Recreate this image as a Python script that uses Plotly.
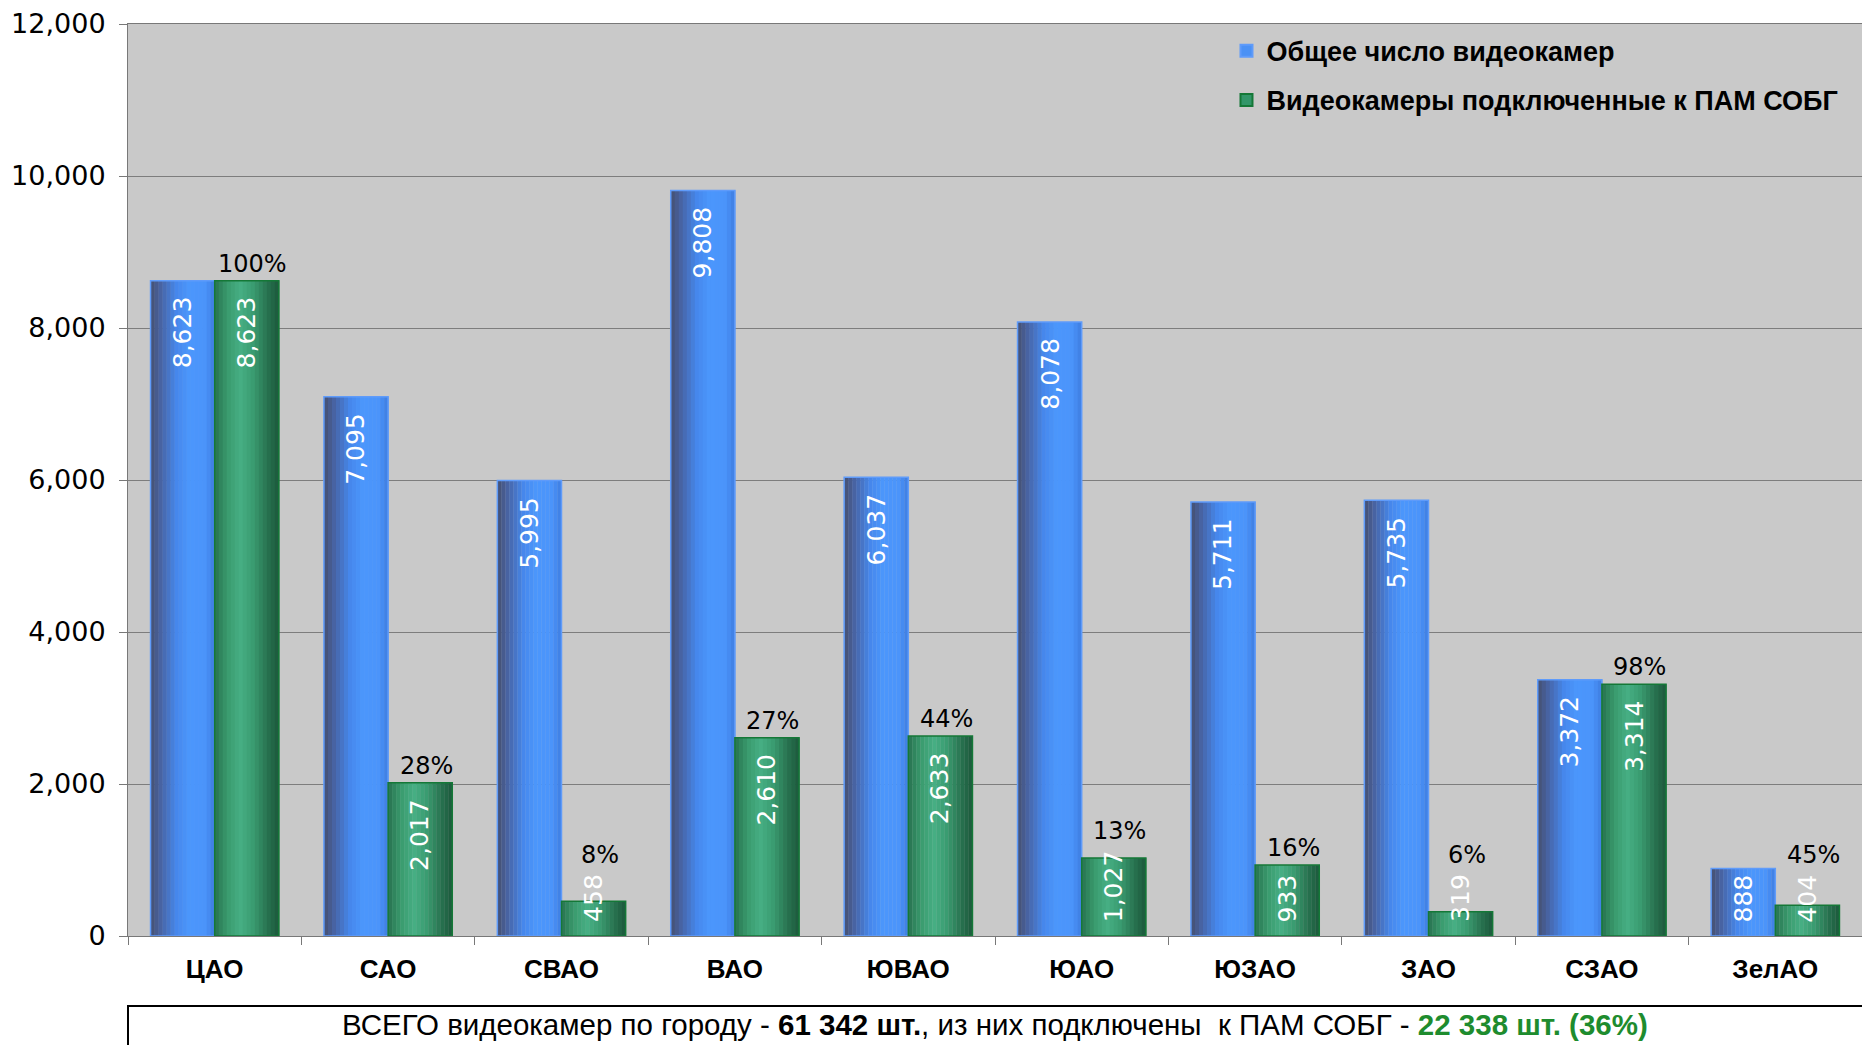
import plotly.graph_objects as go

# ---- data ----
categories = ["ЦАО", "САО", "СВАО", "ВАО", "ЮВАО", "ЮАО", "ЮЗАО", "ЗАО", "СЗАО", "ЗелАО"]
total_cams = [8623, 7095, 5995, 9808, 6037, 8078, 5711, 5735, 3372, 888]
connected_cams = [8623, 2017, 458, 2610, 2633, 1027, 933, 319, 3314, 404]
pct_labels = ["100%", "28%", "8%", "27%", "44%", "13%", "16%", "6%", "98%", "45%"]
y_ticks = [0, 2000, 4000, 6000, 8000, 10000, 12000]
series_names = ["Общее число видеокамер", "Видеокамеры подключенные к ПАМ СОБГ"]
footer = ("ВСЕГО видеокамер по городу - <b>61 342 шт.</b>, из них подключены  к ПАМ СОБГ - "
          "<span style='color:#1e8c2e'><b>22 338 шт. (36%)</b></span>")

# ---- styling ----
W, H = 1862, 1045
ML, MR, MT, MB = 128, 0, 24, 109
PLOT_H = H - MT - MB
BAR_W = 0.37
N_STRIPS = 16
blue_stops = [(0, (70, 80, 112)), (0.15, (72, 98, 160)), (0.4, (70, 135, 235)),
              (0.6, (75, 150, 252)), (0.85, (75, 148, 250)), (1.0, (62, 125, 225))]
green_stops = [(0, (40, 115, 80)), (0.2, (58, 155, 110)), (0.4, (70, 175, 132)),
               (0.6, (58, 155, 112)), (0.85, (38, 110, 76)), (1.0, (28, 88, 60))]


def interp(stops, t):
    for (t0, c0), (t1, c1) in zip(stops[:-1], stops[1:]):
        if t0 <= t <= t1:
            f = (t - t0) / (t1 - t0) if t1 > t0 else 0
            c = [round(a + (b - a) * f) for a, b in zip(c0, c1)]
            return "rgb(%d,%d,%d)" % tuple(c)
    return "rgb(%d,%d,%d)" % stops[-1][1]


fig = go.Figure()
series = [
    (total_cams, -BAR_W, blue_stops, "rgb(95,155,250)", "rgb(75,145,245)"),
    (connected_cams, 0.0, green_stops, "rgb(20,120,55)", "rgb(50,150,105)"),
]
for vals, off, stops, border, legcol in series:
    sw = BAR_W / N_STRIPS
    for k in range(N_STRIPS):
        t = (k + 0.5) / N_STRIPS
        fig.add_trace(go.Bar(
            x=categories, y=vals, offset=off + k * sw, width=sw * 1.08,
            marker=dict(color=interp(stops, t), line=dict(width=0)),
            showlegend=False, hoverinfo="skip"))
    fig.add_trace(go.Bar(
        x=categories, y=vals, offset=off, width=BAR_W,
        marker=dict(color="rgba(0,0,0,0)", line=dict(color=border, width=1.5)),
        showlegend=False, hoverinfo="skip"))

for name, (_, _, _, border, legcol), grp in zip(series_names, series, ["a", "b"]):
    fig.add_trace(go.Bar(x=[None], y=[None], name=name, legendgroup=grp,
                         marker=dict(color=legcol, line=dict(color=border, width=1))))

# ---- value labels (rotated, white) ----
px_per_unit = PLOT_H / 12000.0
LBL_FONT = 25


def text_len_px(s):
    return LBL_FONT * sum(0.318 if ch == "," else 0.636 for ch in s)


annotations = []
for i in range(len(categories)):
    label_tops = []
    for vals, centre in ((total_cams, i - BAR_W / 2), (connected_cams, i + BAR_W / 2)):
        s = f"{vals[i]:,}"
        top_val = max(vals[i] - 14 / px_per_unit, (16 + text_len_px(s)) / px_per_unit)
        label_tops.append(top_val)
        annotations.append(dict(
            x=centre, y=top_val, xref="x", yref="y", text=s, textangle=-90,
            showarrow=False, yanchor="top", xanchor="center",
            font=dict(family="DejaVu Sans", size=LBL_FONT, color="white")))
    pct_base = max(connected_cams[i], label_tops[1])
    annotations.append(dict(
        x=i + BAR_W / 2, y=pct_base, xref="x", yref="y", text=pct_labels[i],
        showarrow=False, yanchor="bottom", xanchor="center", yshift=1, xshift=6,
        font=dict(family="DejaVu Sans", size=24, color="black")))

annotations.append(dict(
    x=0.5, y=-(1024 - (H - MB)) / PLOT_H,
    xref="paper", yref="paper", text=footer, showarrow=False,
    font=dict(family="Liberation Sans, Arial", size=29.5, color="black"),
    xanchor="center", yanchor="middle"))

fig.update_layout(
    width=W, height=H,
    margin=dict(l=ML, r=MR, t=MT, b=MB),
    paper_bgcolor="white", plot_bgcolor="rgb(201,201,201)",
    barmode="overlay",
    annotations=annotations,
    shapes=[dict(type="rect", xref="paper", yref="paper",
                 x0=0, x1=1.05, y0=-0.3, y1=-(1006 - (H - MB)) / PLOT_H,
                 line=dict(color="black", width=2), fillcolor="white", layer="above")],
    legend=dict(x=0.6335, y=0.997, xanchor="left", yanchor="top",
                bgcolor="rgba(0,0,0,0)", traceorder="grouped", tracegroupgap=11,
                font=dict(family="Liberation Sans, Arial", size=27, color="black",
                          weight="bold"),
                itemsizing="constant"),
    font=dict(family="DejaVu Sans", color="black"),
    showlegend=True,
)
fig.update_xaxes(
    type="category", categoryorder="array", categoryarray=categories,
    range=[-0.5, len(categories) - 0.5],
    showline=True, linecolor="rgb(120,120,120)", linewidth=1, mirror=True,
    ticks="outside", tickson="boundaries", ticklen=8, tickcolor="rgb(120,120,120)",
    tickfont=dict(family="Liberation Sans, Arial", size=26, color="black", weight="bold"),
    ticklabelstandoff=10, showgrid=False, zeroline=False)
fig.update_yaxes(
    range=[0, 12000], tickvals=y_ticks, tickformat=",d",
    showline=True, linecolor="rgb(120,120,120)", linewidth=1,
    ticks="outside", ticklen=8, tickcolor="rgb(120,120,120)",
    tickfont=dict(family="DejaVu Sans", size=27, color="black"),
    ticklabelstandoff=8,
    showgrid=True, gridcolor="rgb(125,125,125)", gridwidth=1, zeroline=False)

fig.write_html("out.html", config={"displayModeBar": False},
               post_script="document.body.style.margin='0';")
